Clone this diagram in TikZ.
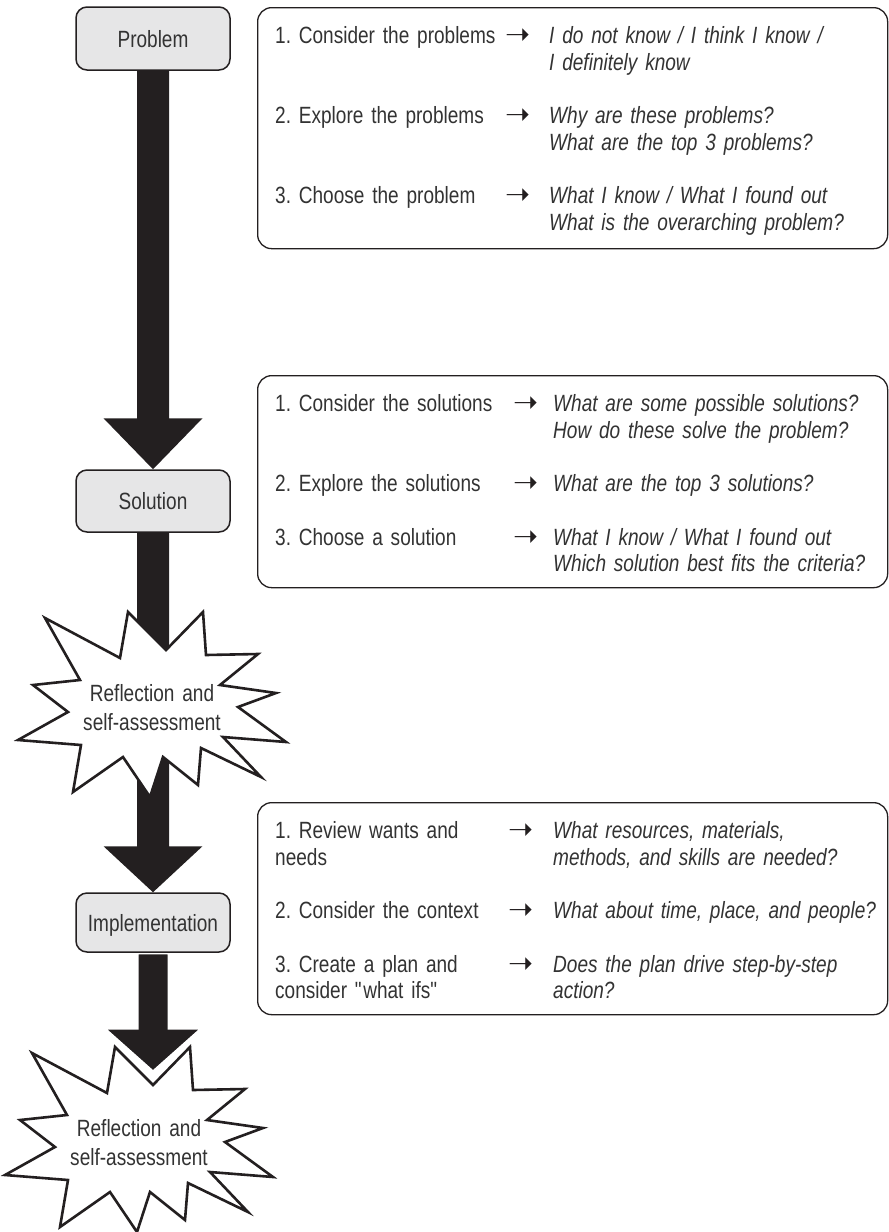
\documentclass[tikz,border=0pt]{standalone}
\usepackage{fontspec}
\setmainfont{Liberation Sans}[FakeStretch=0.81, WordSpace=0.85]
\newfontfamily\arrowglyph{DejaVu Sans}
\usetikzlibrary{calc}
\frenchspacing

\definecolor{ink}{HTML}{231F20}
\definecolor{txt}{HTML}{333333}
\definecolor{stagefill}{HTML}{E6E6E7}

\pgfdeclarelayer{front}
\pgfsetlayers{main,front}

% thick block arrow from one named point to another; #4 = head length
\newcommand\BigArrow[4][]{%
  \path[bigarrow,#1] let \p1=(#2), \p2=(#3) in
    (\x1-16pt,\y1) -- (\x1-16pt,\y2+#4pt) -- (\x1-49.5pt,\y2+#4pt) -- (\x2,\y2)
    -- (\x1+49.5pt,\y2+#4pt) -- (\x1+16pt,\y2+#4pt) -- (\x1+16pt,\y1) -- cycle;}

\tikzset{
  stage/.style={draw=ink, line width=1.5pt, fill=stagefill, rounded corners=11pt,
    minimum width=154pt, inner sep=0pt, text height=17pt, text depth=0pt,
    text=txt, font=\fontsize{23.5}{27}\selectfont},
  stepsbox/.style={draw=ink, line width=1.3pt, rounded corners=14pt, inner sep=0pt,
    minimum width=630pt, anchor=north west},
  lefttxt/.style={anchor=base west, inner sep=0pt, align=left, text width=235pt,
    text=txt, font=\fontsize{23.5}{26.7}\selectfont},
  qtxt/.style={lefttxt, text width=340pt, font=\fontsize{23.5}{26.7}\selectfont\itshape},
  arr/.style={anchor=west, inner sep=0pt, text=ink, font=\fontsize{30}{30}\arrowglyph},
  bigarrow/.style={fill=ink},
  burst/.style={draw=ink, fill=white, line width=2.6pt, line join=miter},
  bursttxt/.style={anchor=base, align=center, text width=180pt, inner sep=0pt,
    text=txt, font=\fontsize{23.5}{29}\selectfont},
  reflect/.pic={
    \path[burst] (-108,-87) -- (-33,-47) -- (-25,-93) -- (13,-55) -- (50,-93)
      -- (53,-50) -- (105,-51) -- (67,-20) -- (123,-12) -- (85,2) -- (133,37)
      -- (70,32) -- (108,72) -- (48,43) -- (45,80) -- (10,52) -- (-3,92)
      -- (-30,52) -- (-80,87) -- (-72,40) -- (-135,35) -- (-85,7) -- (-120,-20)
      -- (-73,-25) -- cycle;
    \coordinate (-c) at (0,0);
    \coordinate (-top) at (13,-68);
    \node[bursttxt] (-txt) at (-1,-3.5) {Reflection and\\self-assessment};
  },
}

\begin{document}
\begin{tikzpicture}[x=1pt, y=-1pt]
\useasboundingbox (0,0) rectangle (889,1232);
\fill[white] (0,0) rectangle (889,1232);

% stage nodes on the left, kept in front of the arrows
\begin{pgfonlayer}{front}
\node[stage, minimum height=63pt] (prob) at (153,38.5) {Problem};
\node[stage, minimum height=62pt] (sol) at (153,501) {Solution};
\node[stage, minimum height=59pt] (impl) at (153,922.5) {Implementation};
\end{pgfonlayer}

% centre of the first burst, where the arrows pass behind it
\coordinate (rs1mid) at (153,705);

% flow arrows, the middle ones running behind the first burst
\BigArrow{prob.south}{sol.north}{51}
\BigArrow{sol.south}{rs1mid}{46}
\BigArrow{rs1mid}{impl.north}{46}

% reflection bursts
\pic (rs1) at (153,705) {reflect};
\pic (rs2) at (140,1140) {reflect};

% last arrow lies over the second burst with a white rim
\BigArrow[draw=white, line width=3pt]{impl.south}{rs2-top}{44}

% problem steps
\node[stepsbox, minimum height=241pt] (pbox) at (257,7) {};
\node[lefttxt] (p1) at (275,43.5) {1. Consider the problems};
\node[arr] (p1a) at (505,37) {➝};
\node[qtxt] (p1q) at (549,43.5) {I do not know / I think I know /\\I definitely know};
\node[lefttxt] (p2) at (275,123.5) {2. Explore the problems};
\node[arr] (p2a) at (505,117) {➝};
\node[qtxt] (p2q) at (549,123.5) {Why are these problems?\\What are the top 3 problems?};
\node[lefttxt] (p3) at (275,203.5) {3. Choose the problem};
\node[arr] (p3a) at (505,197) {➝};
\node[qtxt] (p3q) at (549,203.5) {What I know / What I found out\\What is the overarching problem?};

% solution steps
\node[stepsbox, minimum height=212pt] (sbox) at (257,375) {};
\node[lefttxt] (s1) at (275,411.5) {1. Consider the solutions};
\node[arr] (s1a) at (513,405) {➝};
\node[qtxt] (s1q) at (553,411.5) {What are some possible solutions?\\How do these solve the problem?};
\node[lefttxt] (s2) at (275,491.5) {2. Explore the solutions};
\node[arr] (s2a) at (513,485) {➝};
\node[qtxt] (s2q) at (553,491.5) {What are the top 3 solutions?};
\node[lefttxt] (s3) at (275,545) {3. Choose a solution};
\node[arr] (s3a) at (513,538.5) {➝};
\node[qtxt] (s3q) at (553,545) {What I know / What I found out\\Which solution best fits the criteria?};

% implementation steps
\node[stepsbox, minimum height=212pt] (ibox) at (257,802) {};
\node[lefttxt] (i1) at (275,838.5) {1. Review wants and\\needs};
\node[arr] (i1a) at (508,832) {➝};
\node[qtxt] (i1q) at (553,838.5) {What resources, materials,\\methods, and skills are needed?};
\node[lefttxt] (i2) at (275,918.5) {2. Consider the context};
\node[arr] (i2a) at (508,912) {➝};
\node[qtxt] (i2q) at (553,918.5) {What about time, place, and people?};
\node[lefttxt] (i3) at (275,972) {3. Create a plan and\\consider \textquotedbl what ifs\textquotedbl};
\node[arr] (i3a) at (508,965.5) {➝};
\node[qtxt] (i3q) at (553,972) {Does the plan drive step-by-step\\action?};
\end{tikzpicture}
\end{document}
